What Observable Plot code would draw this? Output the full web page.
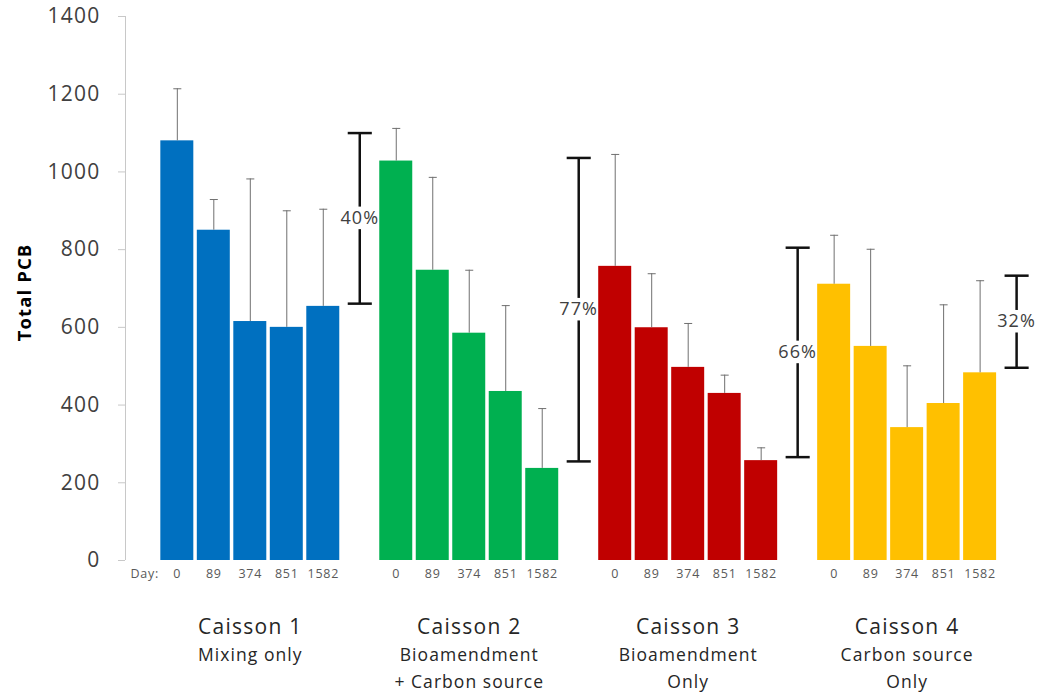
<!DOCTYPE html>
<html>
<head>
<meta charset="utf-8">
<script src="https://cdn.jsdelivr.net/npm/d3@7"></script>
<script src="https://cdn.jsdelivr.net/npm/@observablehq/plot@0.6"></script>
<style>
  body { margin: 0; background: #fff; }
  #chart svg { font-family: "Open Sans", sans-serif; }
  #chart svg text { letter-spacing: 0.06em; }
</style>
</head>
<body>
<div id="chart"></div>
<script>
// Sampling days and caisson treatments
const days = ["0", "89", "374", "851", "1582"];
const caissons = ["Caisson 1", "Caisson 2", "Caisson 3", "Caisson 4"];
const treatments = [
  ["Mixing only"],
  ["Bioamendment", "+ Carbon source"],
  ["Bioamendment", "Only"],
  ["Carbon source", "Only"]
];
const caissonColors = ["#0070C0", "#00B050", "#C00000", "#FFC000"];

// Mean total PCB per caisson and day
const meanPCB = [
  [1080, 850, 615, 600, 654],
  [1028, 747, 585, 435, 237],
  [757, 599, 497, 430, 257],
  [711, 551, 342, 404, 483]
];
// Upper end of each error bar
const upperPCB = [
  [1214, 929, 982, 900, 904],
  [1112, 986, 747, 656, 391],
  [1045, 738, 610, 477, 290],
  [837, 801, 501, 658, 720]
];

// Reduction brackets drawn to the right of each caisson
const reductionLabels = ["40%", "77%", "66%", "32%"];
const reductionTop = [1100, 1036, 805, 733];
const reductionBottom = [661, 255, 266, 496];

const yTicks = [0, 200, 400, 600, 800, 1000, 1200, 1400];

// Each caisson takes six slots: five bars plus one slot for its bracket
const bars = caissons.flatMap((c, g) => days.map((d, i) => ({
  caisson: c, day: d, slot: 6 * g + i,
  mean: meanPCB[g][i], upper: upperPCB[g][i], color: caissonColors[g]
})));
const reductions = caissons.map((c, g) => ({
  slot: 6 * g + 5, label: reductionLabels[g],
  top: reductionTop[g], bottom: reductionBottom[g],
  mid: (reductionTop[g] + reductionBottom[g]) / 2
}));
const groups = caissons.map((c, g) => ({
  name: c, slot: 6 * g + 2, sub: treatments[g].join("\n")
}));

const halfBar = 0.452, halfCap = 0.11, halfBracket = 0.33;
const labelGap = 29; // half-height of the break in a bracket around its label, in PCB units
const xMin = -1.42;

const chart = Plot.plot({
  width: 1045,
  height: 694,
  marginLeft: 125,
  marginRight: 7,
  marginTop: 16,
  marginBottom: 134,
  x: { type: "linear", domain: [xMin, 23.6], axis: null },
  y: { domain: [0, 1400], axis: null, label: null },
  color: { type: "identity" },
  marks: [
    // vertical axis line
    Plot.ruleX([xMin], { y1: 0, y2: 1400, stroke: "#c8c8c8" }),
    Plot.axisY({
      ticks: yTicks, tickSize: 7, tickPadding: 18, fontSize: 21,
      stroke: "#c8c8c8", fill: "#404040", label: null, tickFormat: d => String(d)
    }),
    Plot.text(["Total PCB"], {
      frameAnchor: "left", textAnchor: "middle", dx: -100, dy: 4, rotate: -90,
      fontSize: 18.5, fontWeight: "bold", fill: "#000"
    }),
    // bars
    Plot.rectY(bars, {
      x1: d => d.slot - halfBar, x2: d => d.slot + halfBar,
      y1: 0, y2: "mean", fill: "color"
    }),
    // error bars
    Plot.ruleX(bars, { x: "slot", y1: "mean", y2: "upper", stroke: "#707070", strokeWidth: 1 }),
    Plot.link(bars, {
      x1: d => d.slot - halfCap, x2: d => d.slot + halfCap,
      y1: "upper", y2: "upper", stroke: "#707070", strokeWidth: 1
    }),
    // reduction brackets, broken around their labels
    Plot.ruleX(reductions, { x: "slot", y1: "bottom", y2: d => d.mid - labelGap, stroke: "#111", strokeWidth: 2.5 }),
    Plot.ruleX(reductions, { x: "slot", y1: d => d.mid + labelGap, y2: "top", stroke: "#111", strokeWidth: 2.5 }),
    Plot.link(reductions, {
      x1: d => d.slot - halfBracket, x2: d => d.slot + halfBracket,
      y1: "top", y2: "top", stroke: "#111", strokeWidth: 2.5
    }),
    Plot.link(reductions, {
      x1: d => d.slot - halfBracket, x2: d => d.slot + halfBracket,
      y1: "bottom", y2: "bottom", stroke: "#111", strokeWidth: 2.5
    }),
    Plot.text(reductions, {
      x: "slot", y: "mid", text: "label",
      fontSize: 18, fill: "#404040"
    }),
    // day labels under the bars
    Plot.text(bars, {
      x: "slot", frameAnchor: "bottom", dy: 17, text: "day",
      fontSize: 12.5, fill: "#595959"
    }),
    Plot.text(["Day:"], {
      x: () => -0.5, frameAnchor: "bottom", dy: 17, textAnchor: "end",
      fontSize: 12.5, fill: "#595959"
    }),
    // caisson names and treatments
    Plot.text(groups, {
      x: "slot", frameAnchor: "bottom", dy: 73, text: "name",
      fontSize: 21, fill: "#262626"
    }),
    Plot.text(groups, {
      x: "slot", frameAnchor: "bottom", dy: 82, text: "sub",
      lineAnchor: "top", lineHeight: 1.52, fontSize: 17.5, fill: "#262626"
    })
  ]
});

document.getElementById("chart").append(chart);
</script>
</body>
</html>
